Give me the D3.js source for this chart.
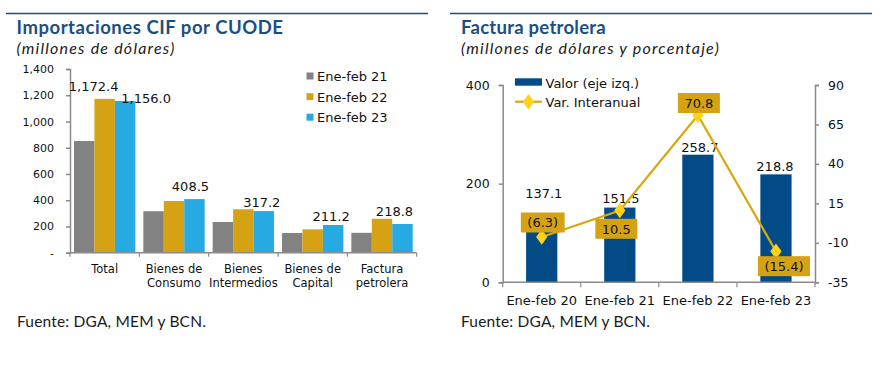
<!DOCTYPE html>
<html>
<head>
<meta charset="utf-8">
<script src="https://cdn.jsdelivr.net/npm/d3@7/dist/d3.min.js"></script>
<style>
  html, body { margin: 0; padding: 0; background: #ffffff; }
  svg { display: block; }
</style>
</head>
<body>
<svg id="chart" width="885" height="365"></svg>
<script>
// ---------- Left chart data ----------
const cuodeCategories = [["Total"], ["Bienes de", "Consumo"], ["Bienes", "Intermedios"], ["Bienes de", "Capital"], ["Factura", "petrolera"]];
const cuodeSeries = ["Ene-feb 21", "Ene-feb 22", "Ene-feb 23"];
const valuesEneFeb21 = [851.0, 316.0, 234.0, 150.0, 151.5];
const valuesEneFeb22 = [1172.4, 394.0, 331.0, 178.0, 258.7];
const valuesEneFeb23 = [1156.0, 408.5, 317.2, 211.2, 218.8];
const cuodeTicks = [0, 200, 400, 600, 800, 1000, 1200, 1400];

// ---------- Right chart data ----------
const petroCategories = ["Ene-feb 20", "Ene-feb 21", "Ene-feb 22", "Ene-feb 23"];
const petroValor = [137.1, 151.5, 258.7, 218.8];
const petroVar = [-6.3, 10.5, 70.8, -15.4];
const petroLeftTicks = [0, 200, 400];
const petroRightTicks = [-35, -10, 15, 40, 65, 90];

const svg = d3.select("#chart");
const navy = "#1b4f82";
const colors = ["#828282", "#d5a214", "#27aae1"];
const fmtC = d3.format(",.1f");
const fmtP = v => v < 0 ? "(" + d3.format(".1f")(-v) + ")" : d3.format(".1f")(v);
const VF = "DejaVu Sans";
const TF = "Lato";

function txt(sel, size) {
  return sel.append("text").attr("font-family", VF).attr("font-size", size).attr("fill", "#111");
}
// stretch a text to a target width with letter-spacing
function spread(t, width) {
  const w = t.node().getComputedTextLength();
  const n = t.text().length;
  t.attr("letter-spacing", Math.max(0, (width - w) / n));
  return t;
}

function header(x0, x1, tx, title, tw, sub, sw) {
  svg.append("line").attr("x1", x0).attr("x2", x1).attr("y1", 13.5).attr("y2", 13.5)
    .attr("stroke", navy).attr("stroke-width", 1.3);
  spread(svg.append("text").attr("font-family", TF).attr("font-weight", 700).attr("fill", navy)
    .attr("x", tx).attr("y", 33.5).attr("font-size", 18.5).text(title), tw);
  spread(svg.append("text").attr("font-family", TF).attr("font-style", "italic").attr("font-weight", 400)
    .attr("fill", "#1a1a1a").attr("x", tx).attr("y", 53.5).attr("font-size", 16).text(sub), sw);
}
header(6, 428, 16.5, "Importaciones CIF por CUODE", 267, "(millones de dólares)", 159);
header(450, 872, 461, "Factura petrolera", 145, "(millones de dólares y porcentaje)", 259);
[17, 461].forEach(xx => spread(svg.append("text").attr("font-family", TF).attr("font-weight", 400).attr("fill", "#1a1a1a")
  .attr("x", xx).attr("y", 326.5).attr("font-size", 15.5).text("Fuente: DGA, MEM y BCN."), 189));

function styleAxis(a, size) {
  a.attr("font-family", VF);
  a.selectAll("text").attr("font-size", size).attr("font-family", VF).attr("fill", "#111");
  a.selectAll("line, path").attr("stroke", "#8a8a8a").attr("stroke-width", 1.5);
}

// ================= LEFT CHART =================
{
  const x0 = d3.scaleBand().domain(d3.range(cuodeCategories.length)).range([70, 416.7]).paddingInner(0).paddingOuter(0);
  const x1 = d3.scaleBand().domain(d3.range(cuodeSeries.length)).range([4, x0.bandwidth() - 4]).padding(0);
  const y = d3.scaleLinear().domain([0, 1400]).range([252.7, 69]);
  const series = [valuesEneFeb21, valuesEneFeb22, valuesEneFeb23];
  const g = svg.append("g");

  series.forEach((vals, s) => {
    g.selectAll(null).data(vals).enter().append("rect")
      .attr("x", (d, i) => x0(i) + x1(s))
      .attr("y", d => y(d))
      .attr("width", x1.bandwidth())
      .attr("height", d => y(0) - y(d))
      .attr("fill", colors[s]);
  });

  const ya = g.append("g").attr("transform", "translate(70,0)")
    .call(d3.axisLeft(y).tickValues(cuodeTicks).tickSize(4).tickPadding(12)
      .tickFormat(d => d === 0 ? "-" : d3.format(",")(d)));
  styleAxis(ya, 11);

  const xa = g.append("g");
  xa.append("line").attr("x1", 70).attr("x2", 416.7).attr("y1", y(0)).attr("y2", y(0))
    .attr("stroke", "#8a8a8a").attr("stroke-width", 1.5);
  const bounds = cuodeCategories.map((c, i) => x0(i)).concat([x0(cuodeCategories.length - 1) + x0.bandwidth()]);
  xa.selectAll(null).data(bounds).enter().append("line")
    .attr("x1", d => d).attr("x2", d => d).attr("y1", y(0)).attr("y2", y(0) + 4)
    .attr("stroke", "#8a8a8a").attr("stroke-width", 1.2);
  cuodeCategories.forEach((lines, i) => {
    const cx = x0(i) + x0.bandwidth() / 2;
    const t = txt(xa, 11.5).attr("text-anchor", "middle").attr("x", cx).attr("y", 272.5);
    lines.forEach((ln, k) => t.append("tspan").attr("x", cx).attr("dy", k ? 14 : 0).text(ln));
  });

  const lab = (s, i, dx, dy) => txt(g, 13).attr("text-anchor", "middle")
    .attr("x", x0(i) + x1(s) + x1.bandwidth() / 2 + dx)
    .attr("y", y(series[s][i]) + dy)
    .text(fmtC(series[s][i]));
  lab(1, 0, -11, -7.5);
  lab(2, 0, 21, 1.5);
  lab(2, 1, -4, -8);
  lab(2, 2, -2, -4);
  lab(2, 3, -2, -4);
  lab(2, 4, -8, -8);

  cuodeSeries.forEach((name, s) => {
    const cy = 76 + s * 20.6;
    g.append("rect").attr("x", 306.5).attr("y", cy - 3.5).attr("width", 7).attr("height", 7).attr("fill", colors[s]);
    txt(g, 13).attr("x", 317).attr("y", cy + 5).text(name);
  });
}

// ================= RIGHT CHART =================
{
  const xb = d3.scaleBand().domain(petroCategories).range([502.7, 815]).padding(0);
  const yL = d3.scaleLinear().domain([0, 400]).range([282.3, 85]);
  const yR = d3.scaleLinear().domain([-35, 90]).range([282.3, 85]);
  const g = svg.append("g");
  const barColor = "#024b87", lineColor = "#d9a80f", markColor = "#ffd21a", boxColor = "#d5a214";
  const barW = xb.bandwidth() * 0.4;

  g.selectAll(null).data(petroValor).enter().append("rect")
    .attr("x", (d, i) => xb(petroCategories[i]) + xb.bandwidth() / 2 - barW / 2)
    .attr("width", barW)
    .attr("y", d => yL(d)).attr("height", d => yL(0) - yL(d)).attr("fill", barColor);

  const la = g.append("g").attr("transform", "translate(502.7,0)")
    .call(d3.axisLeft(yL).tickValues(petroLeftTicks).tickSize(4).tickPadding(9));
  const ra = g.append("g").attr("transform", "translate(815,0)")
    .call(d3.axisRight(yR).tickValues(petroRightTicks).tickSize(4).tickPadding(9)
      .tickFormat(d => d < 0 ? "-" + Math.abs(d) : d));
  styleAxis(la, 12.5);
  styleAxis(ra, 12.5);

  const xa = g.append("g");
  xa.append("line").attr("x1", 502.7).attr("x2", 815).attr("y1", yL(0)).attr("y2", yL(0))
    .attr("stroke", "#8a8a8a").attr("stroke-width", 1.5);
  const bounds = petroCategories.map(c => xb(c)).concat([815]);
  xa.selectAll(null).data(bounds).enter().append("line")
    .attr("x1", d => d).attr("x2", d => d).attr("y1", yL(0)).attr("y2", yL(0) + 5)
    .attr("stroke", "#8a8a8a").attr("stroke-width", 1.2);
  petroCategories.forEach(c => {
    txt(xa, 13).attr("text-anchor", "middle").attr("x", xb(c) + xb.bandwidth() / 2).attr("y", 304.5).text(c);
  });

  const barDy = [-17, -4.5, -2.5, -3.5];
  const barDx = [2, 1, 2, -1];
  petroValor.forEach((d, i) => {
    txt(g, 13).attr("text-anchor", "middle")
      .attr("x", xb(petroCategories[i]) + xb.bandwidth() / 2 + barDx[i])
      .attr("y", yL(d) + barDy[i]).text(d.toFixed(1));
  });

  const px = i => xb(petroCategories[i]) + xb.bandwidth() / 2;
  const line = d3.line().x((d, i) => px(i)).y(d => yR(d));
  g.append("path").datum(petroVar).attr("d", line).attr("fill", "none")
    .attr("stroke", lineColor).attr("stroke-width", 2.2);
  const diamond = d3.symbol().type(d3.symbolDiamond).size(70);
  g.selectAll(null).data(petroVar).enter().append("path")
    .attr("d", diamond)
    .attr("transform", (d, i) => `translate(${px(i)},${yR(d)}) scale(1.25,1)`)
    .attr("fill", markColor);

  const boxDx = [1, -3.5, 1, 8];
  const boxDy = [-14.5, 18.3, -12.3, 14.8];
  petroVar.forEach((v, i) => {
    const cx = px(i) + boxDx[i], cy = yR(v) + boxDy[i];
    const t = txt(g, 13).attr("text-anchor", "middle").attr("x", cx).attr("y", cy + 5).text(fmtP(v));
    const w = t.node().getComputedTextLength() + 13;
    g.insert("rect", () => t.node()).attr("x", cx - w / 2).attr("y", cy - 10).attr("width", w).attr("height", 20)
      .attr("fill", boxColor);
  });

  g.append("rect").attr("x", 515).attr("y", 78.3).attr("width", 27).attr("height", 7.4).attr("fill", barColor);
  txt(g, 13).attr("x", 545.5).attr("y", 87.5).text("Valor (eje izq.)");
  g.append("line").attr("x1", 515).attr("x2", 542).attr("y1", 101.7).attr("y2", 101.7)
    .attr("stroke", lineColor).attr("stroke-width", 2.2);
  g.append("path").attr("d", diamond).attr("transform", "translate(528.5,101.7) scale(1.25,1)").attr("fill", markColor);
  txt(g, 13).attr("x", 545.5).attr("y", 106.5).text("Var. Interanual");
}
</script>
</body>
</html>
